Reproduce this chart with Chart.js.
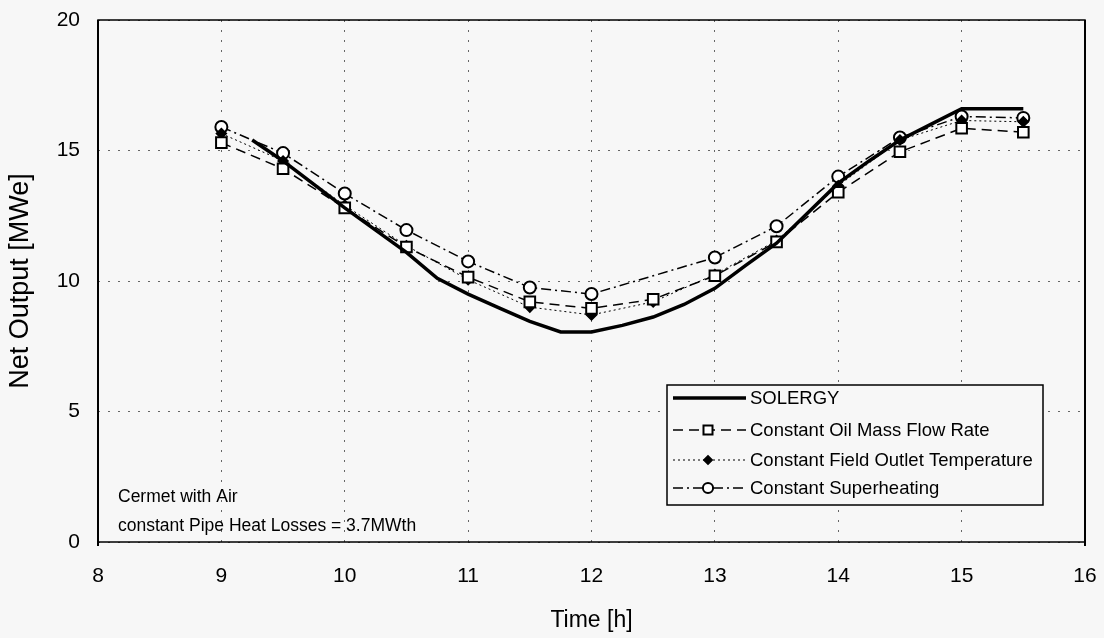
<!DOCTYPE html>
<html>
<head>
<meta charset="utf-8">
<script src="https://cdn.jsdelivr.net/npm/chart.js@4/dist/chart.umd.min.js"></script>
<style>
  html, body { margin: 0; padding: 0; background: #f7f7f7; }
  #wrap { width: 1104px; height: 638px; }
</style>
</head>
<body>
<div id="wrap"><canvas id="c" width="1104" height="638"></canvas></div>
<script>
// ---- data ----
const solergyTime = [9.25, 9.5, 9.75, 10, 10.25, 10.5, 10.75, 11, 11.25, 11.5, 11.75, 12, 12.25, 12.5, 12.75, 13, 13.25, 13.5, 13.75, 14, 14.25, 14.5, 14.75, 15, 15.25, 15.5];
const solergy = [15.4, 14.6, 13.7, 12.8, 11.95, 11.1, 10.1, 9.5, 8.97, 8.45, 8.05, 8.05, 8.3, 8.62, 9.1, 9.72, 10.6, 11.45, 12.6, 13.75, 14.6, 15.4, 16.0, 16.6, 16.6, 16.6];

const time = [9, 9.5, 10, 10.5, 11, 11.5, 12, 12.5, 13, 13.5, 14, 14.5, 15, 15.5];
const oilMassFlow = [15.3, 14.3, 12.8, 11.3, 10.15, 9.2, 8.95, 9.3, 10.2, 11.5, 13.4, 14.95, 15.85, 15.7];
const fieldOutlet = [15.65, 14.6, 12.9, 11.35, 10.05, 9.0, 8.7, 9.2, 10.25, 11.55, 13.65, 15.4, 16.15, 16.1];
const superheating = [15.9, 14.9, 13.35, 11.95, 10.75, 9.75, 9.5, null, 10.9, 12.1, 14.0, 15.5, 16.3, 16.25];

const xTicks = [8, 9, 10, 11, 12, 13, 14, 15, 16];
const yTicks = [0, 5, 10, 15, 20];

const seriesNames = ['SOLERGY', 'Constant Oil Mass Flow Rate', 'Constant Field Outlet Temperature', 'Constant Superheating'];
const noteLines = ['Cermet with Air', 'constant Pipe Heat Losses = 3.7MWth'];

const pts = (xs, ys) => xs.map((x, i) => ({ x: x, y: ys[i] }));
const FONT = "'Liberation Sans', Arial, sans-serif";

const datasets = [
  {
    label: seriesNames[0], data: pts(solergyTime, solergy),
    borderColor: '#000', borderWidth: 3.5, pointRadius: 0, borderDash: [],
    fill: false, tension: 0
  },
  {
    label: seriesNames[1], data: pts(time, oilMassFlow),
    borderColor: '#000', borderWidth: 1.5, borderDash: [10, 6],
    pointStyle: 'rect', pointRadius: 7.5, pointBorderWidth: 2, pointBackgroundColor: '#fff', pointBorderColor: '#000',
    fill: false, tension: 0
  },
  {
    label: seriesNames[2], data: pts(time, fieldOutlet),
    borderColor: '#000', borderWidth: 1, borderDash: [2, 3],
    pointStyle: 'rectRot', pointRadius: 5, pointBorderWidth: 1.5, pointBackgroundColor: '#000', pointBorderColor: '#000',
    fill: false, tension: 0
  },
  {
    label: seriesNames[3], data: pts(time, superheating),
    borderColor: '#000', borderWidth: 1.5, borderDash: [10, 4, 2, 4],
    pointStyle: 'circle', pointRadius: 6, pointBorderWidth: 2, pointBackgroundColor: '#fff', pointBorderColor: '#000',
    fill: false, tension: 0, spanGaps: true
  }
];

const bgPlugin = {
  id: 'bg',
  beforeDraw(chart) {
    const ctx = chart.ctx;
    ctx.save();
    ctx.fillStyle = '#f7f7f7';
    ctx.fillRect(0, 0, chart.width, chart.height);
    ctx.restore();
  }
};

const framePlugin = {
  id: 'frame',
  afterDatasetsDraw(chart) {
    const { ctx, chartArea: a } = chart;
    ctx.save();
    ctx.strokeStyle = '#000';
    ctx.setLineDash([]);
    ctx.lineWidth = 1.5;
    ctx.strokeRect(a.left, a.top, a.right - a.left, a.bottom - a.top);
    ctx.lineWidth = 2;
    ctx.beginPath();
    ctx.moveTo(a.left, a.top); ctx.lineTo(a.left, a.bottom + 4);
    ctx.moveTo(a.right, a.top); ctx.lineTo(a.right, a.bottom + 4);
    ctx.stroke();
    ctx.restore();
  }
};

const legendPlugin = {
  id: 'boxLegend',
  afterDraw(chart) {
    const ctx = chart.ctx;
    const bx = 667, by = 385, bw = 376, bh = 120;
    ctx.save();
    ctx.fillStyle = '#f7f7f7';
    ctx.fillRect(bx, by, bw, bh);
    ctx.strokeStyle = '#000';
    ctx.lineWidth = 1.5;
    ctx.setLineDash([]);
    ctx.strokeRect(bx, by, bw, bh);
    const rows = [398, 430, 460, 488];
    ctx.font = '18.5px ' + FONT;
    ctx.textBaseline = 'middle';
    datasets.forEach((ds, i) => {
      const y = rows[i];
      ctx.strokeStyle = '#000';
      ctx.lineWidth = ds.borderWidth;
      ctx.setLineDash(ds.borderDash || []);
      ctx.beginPath();
      ctx.moveTo(bx + 6, y); ctx.lineTo(746, y);
      ctx.stroke();
      ctx.setLineDash([]);
      if (ds.pointRadius) {
        ctx.fillStyle = ds.pointBackgroundColor;
        ctx.strokeStyle = ds.pointBorderColor;
        ctx.lineWidth = ds.pointBorderWidth;
        Chart.helpers.drawPoint(ctx, { pointStyle: ds.pointStyle, radius: ds.pointRadius * 0.85, borderWidth: ds.pointBorderWidth, rotation: 0 }, 708, y);
      }
      ctx.fillStyle = '#000';
      ctx.textAlign = 'left';
      ctx.fillText(ds.label, 750, y + 1);
    });
    // note text
    ctx.font = '17.5px ' + FONT;
    ctx.fillText(noteLines[0], 118, 497);
    ctx.fillText(noteLines[1], 118, 526);
    ctx.restore();
  }
};

new Chart(document.getElementById('c'), {
  type: 'line',
  data: { datasets },
  plugins: [bgPlugin, framePlugin, legendPlugin],
  options: {
    responsive: false,
    animation: false,
    devicePixelRatio: 1,
    layout: { padding: { top: 20, right: 19, left: 0, bottom: 0 } },
    plugins: { legend: { display: false }, tooltip: { enabled: false } },
    scales: {
      x: {
        type: 'linear', min: 8, max: 16,
        afterBuildTicks(s) { s.ticks = xTicks.map(v => ({ value: v })); },
        afterFit(s) { s.height = 96; s.paddingLeft = 0; s.paddingRight = 0; },
        grid: { color: '#666', lineWidth: 1, drawTicks: false },
        border: { display: false, dash: [2, 8] },
        ticks: { color: '#000', font: { size: 21, family: FONT }, padding: 22, maxRotation: 0 },
        title: { display: true, text: 'Time [h]', color: '#000', font: { size: 23, family: FONT }, padding: { top: 0, bottom: 4 } }
      },
      y: {
        type: 'linear', min: 0, max: 20,
        afterBuildTicks(s) { s.ticks = yTicks.map(v => ({ value: v })); },
        afterFit(s) { s.width = 98; s.paddingTop = 0; s.paddingBottom = 0; },
        grid: { color: '#666', lineWidth: 1, drawTicks: false },
        border: { display: false, dash: [2, 8] },
        ticks: { color: '#000', font: { size: 21, family: FONT }, padding: 18 },
        title: { display: true, text: 'Net Output [MWe]', color: '#000', font: { size: 27, family: FONT }, padding: { top: 4, bottom: 0 } }
      }
    }
  }
});
</script>
</body>
</html>
